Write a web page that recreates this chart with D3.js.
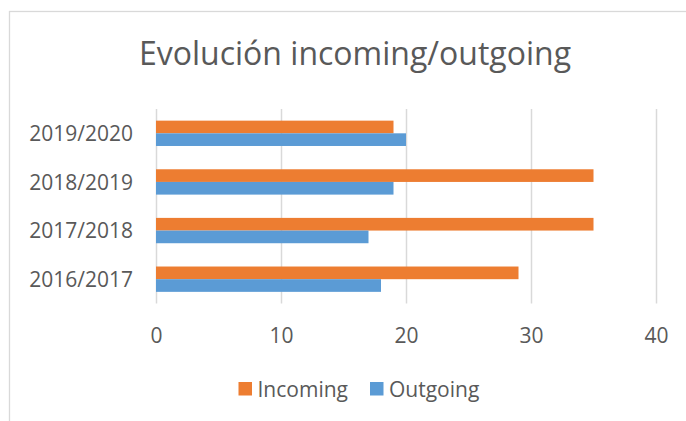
<!DOCTYPE html>
<html>
<head>
<meta charset="utf-8">
<script src="https://cdn.jsdelivr.net/npm/d3@7"></script>
<style>
    body { margin: 0; background: #fff; }
    #chart text { font-family: 'Open Sans', sans-serif; fill: #595959; }
</style>
</head>
<body>
<div id="chart"></div>
<script>
//Datos
const cursos = ['2016/2017', '2017/2018', '2018/2019', '2019/2020'];
const series = ['Incoming', 'Outgoing'];
const incoming = [29, 35, 35, 19];
const outgoing = [18, 17, 19, 20];
const ticks = [0, 10, 20, 30, 40];

const COLOR_INCOMING = '#ED7D31',
COLOR_OUTGOING = '#5B9BD5',
COLOR_GRID = '#D9D9D9',
COLOR_TEXT = '#595959';

let data = cursos.map(function(d, i) {
    return { curso: d, Incoming: incoming[i], Outgoing: outgoing[i] };
});

let width = 686, height = 421;

let svg = d3.select('#chart')
    .append('svg')
        .attr('width', width)
        .attr('height', height);

//Marco del gráfico
svg.append('rect')
    .attr('x', 9.5)
    .attr('y', 11.5)
    .attr('width', 700)
    .attr('height', 430)
    .attr('fill', '#fff')
    .attr('stroke', COLOR_GRID)
    .attr('stroke-width', 1.3);

//Título
svg.append('text')
    .attr('x', 355)
    .attr('y', 65)
    .attr('text-anchor', 'middle')
    .style('font-size', '32px')
    .text('Evolución incoming/outgoing');

//Escalas
let x = d3.scaleLinear()
    .domain([0, 40])
    .range([156, 656]);

let y = d3.scaleBand()
    .domain(cursos.slice().reverse())
    .range([109, 303.5])
    .paddingInner(0.479)
    .paddingOuter(0.2395);

let ySub = d3.scaleBand()
    .domain(series)
    .range([0, y.bandwidth()]);

let color = d3.scaleOrdinal()
    .domain(series)
    .range([COLOR_INCOMING, COLOR_OUTGOING]);

//Eje X con líneas de rejilla
let xAxis = function(g) {
    g.call(d3.axisBottom(x).tickValues(ticks).tickSize(0).tickPadding(0));
    g.select('.domain').remove();
    g.selectAll('.tick line')
        .attr('y1', 109 - 303.5)
        .attr('y2', 0)
        .attr('stroke', COLOR_GRID)
        .attr('stroke-width', 1.5);
    g.selectAll('.tick text')
        .attr('y', 39)
        .attr('dy', null)
        .style('font-size', '21px');
};

svg.append('g')
    .attr('transform', 'translate(0,303.5)')
    .call(xAxis);

//Eje Y
let yAxis = function(g) {
    g.call(d3.axisLeft(y).tickSize(0).tickPadding(0));
    g.select('.domain').remove();
    g.selectAll('.tick text')
        .attr('x', 0)
        .attr('dy', '0.36em')
        .style('font-size', '21px');
};

svg.append('g')
    .attr('transform', 'translate(133,0)')
    .call(yAxis);

//Barras
svg.append('g')
    .selectAll('g')
    .data(data)
    .enter()
    .append('g')
    .attr('transform', function(d) { return 'translate(0,' + y(d.curso) + ')'; })
    .selectAll('rect')
    .data(function(d) { return series.map(function(s) { return { key: s, value: d[s] }; }); })
    .enter()
    .append('rect')
    .attr('x', x(0))
    .attr('y', function(d) { return ySub(d.key); })
    .attr('height', ySub.bandwidth())
    .attr('width', function(d) { return x(d.value) - x(0); })
    .attr('fill', function(d) { return color(d.key); });

//Leyenda
let legendPos = [238.5, 370];

let legend = svg.append('g')
    .selectAll('g')
    .data(series)
    .enter()
    .append('g')
    .attr('transform', function(d, i) { return 'translate(' + legendPos[i] + ',382)'; });

legend.append('rect')
    .attr('width', 13.5)
    .attr('height', 13.5)
    .attr('fill', function(d) { return color(d); });

legend.append('text')
    .attr('x', 19)
    .attr('y', 14.5)
    .style('font-size', '21px')
    .text(function(d) { return d; });
</script>
</body>
</html>
